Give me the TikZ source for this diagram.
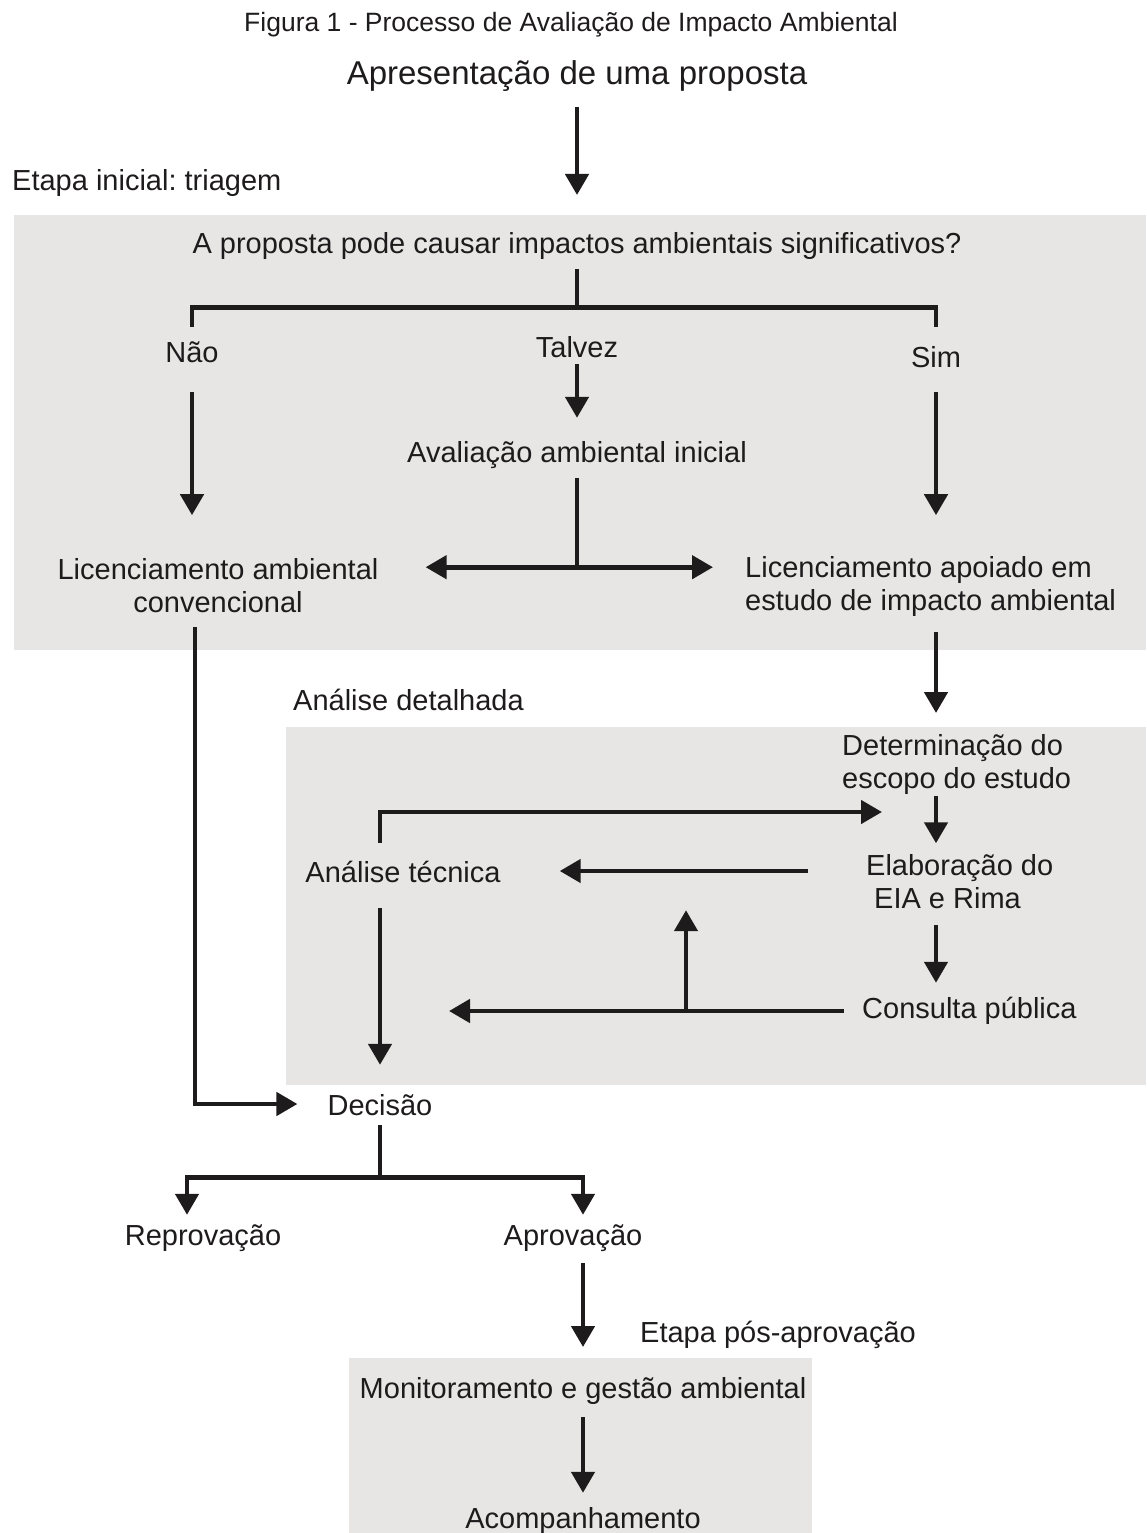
\documentclass[tikz,border=0pt]{standalone}
\usepackage{fontspec}
\setmainfont{Liberation Sans}
\frenchspacing
\usetikzlibrary{arrows.meta,calc}
\definecolor{etapa cinza}{RGB}{231,230,229}
\definecolor{tinta}{RGB}{30,27,28}
\colorlet{etapa area}{etapa cinza}
\tikzset{rotulo/.style={font=\fontsize{29}{32.5}\selectfont, inner sep=0pt,
        text height=21pt, text depth=7pt, anchor=base, text=tinta},
    bloco/.style={font=\fontsize{29}{32.5}\selectfont, inner sep=0pt,
        align=left, anchor=base west, text=tinta},
    fundo/.style={fill=etapa area, inner sep=0pt, anchor=north west},
    fluxo/.style={draw=tinta, line width=4.6pt},
    seta/.style={fluxo, -{Triangle[length=21pt,width=23pt]}},
    seta dupla/.style={fluxo, {Triangle[length=21pt,width=23pt]}-{Triangle[length=21pt,width=23pt]}}}

\begin{document}
\begin{tikzpicture}[x=1pt,y=-1pt]
    \useasboundingbox (0,0) rectangle (1146,1533);
    % etapas
    \node[fundo, minimum width=1132pt, minimum height=435pt] (triagemfundo) at (14,215) {};
    \node[fundo, minimum width=860pt, minimum height=358pt] (detalhefundo) at (286,727) {};
    \node[fundo, minimum width=463pt, minimum height=175pt] (monitfundo) at (349,1358) {};

    \node[rotulo, font=\fontsize{26.5}{30}\selectfont] (titulo) at (571,32) {Figura 1 - Processo de Avaliação de Impacto Ambiental};
    \node[rotulo, font=\fontsize{33}{38}\selectfont, text height=24pt, text depth=8pt] (proposta) at (577,85) {Apresentação de uma proposta};
    \node[rotulo, anchor=base west] (triagem) at (12,190) {Etapa inicial: triagem};
    \node[rotulo] (pergunta) at (577,253) {A proposta pode causar impactos ambientais significativos?};
    \node[rotulo] (nao) at (192,362) {Não};
    \node[rotulo] (talvez) at (577,357) {Talvez};
    \node[rotulo] (sim) at (936,367) {Sim};
    \node[rotulo] (avalini) at (577,462) {Avaliação ambiental inicial};
    \node[bloco, align=center, anchor=base] (licconv) at (218,612) {Licenciamento ambiental\\convencional};
    \node[bloco] (licest) at (745,610) {Licenciamento apoiado em\\estudo de impacto ambiental};
    \node[rotulo, anchor=base west] (detalhada) at (293,710) {Análise detalhada};
    \node[bloco] (escopo) at (842,788) {Determinação do\\escopo do estudo};
    \node[rotulo] (tecnica) at (403,882) {Análise técnica};
    \node[bloco] (elab) at (866,908) {Elaboração do\\\hspace*{8pt}EIA e Rima};
    \node[rotulo, anchor=base west] (consulta) at (862,1018) {Consulta pública};
    \node[rotulo] (decisao) at (380,1115) {Decisão};
    \node[rotulo] (reprov) at (203,1245) {Reprovação};
    \node[rotulo] (aprov) at (573,1245) {Aprovação};
    \node[rotulo, anchor=base west] (posaprov) at (640,1342) {Etapa pós-aprovação};
    \node[rotulo] (monit) at (583,1398) {Monitoramento e gestão ambiental};
    \node[rotulo] (acomp) at (583,1528) {Acompanhamento};

    \coordinate (ramo) at ($(pergunta.south)+(0,47)$);
    \coordinate (bifurca) at ($(avalini.south)+(0,98)$);
    \coordinate (canto) at (195,1104);
    \coordinate (retorno) at (882,812);
    \coordinate (juncao) at ($(consulta.west)+(-176,0)$);
    \coordinate (ramo2) at ($(decisao.south)+(0,55)$);

    \draw[seta] ($(proposta.south)+(0,14)$) -- ($(triagemfundo.north -| proposta)+(0,-20)$);
    \draw[fluxo] ($(pergunta.south)+(0,9)$) -- (ramo);
    \draw[fluxo] ($(nao.north)+(0,-14)$) |- (ramo) -| ($(sim.north)+(0,-19)$);
    \draw[seta] (talvez.south) -- ($(avalini.north)+(0,-23)$);
    \draw[seta] ($(nao.south)+(0,23)$) -- ++(0,123);
    \draw[seta] ($(sim.south)+(0,18)$) -- ++(0,123);
    \draw[fluxo] ($(avalini.south)+(0,9)$) -- (bifurca);
    \draw[seta dupla] ($(bifurca -| licconv.east)+(47,0)$) -- ($(bifurca -| licest.west)+(-32,0)$);
    \draw[seta] ($(canto |- triagemfundo.south)+(0,-23)$) -- (canto) -- ($(canto -| decisao.west)+(-30,0)$);
    \draw[seta] ($(triagemfundo.south -| sim)+(0,-18)$) -- ($(detalhefundo.north -| sim)+(0,-14)$);
    \draw[seta] ($(escopo.south -| sim)+(0,2)$) -- ($(elab.north -| sim)+(0,-11)$);
    \draw[seta] ($(tecnica.north -| decisao)+(0,-18)$) |- (retorno);
    \draw[seta] ($(tecnica.east -| elab.west)+(-58,-4)$) -- ($(tecnica.east)+(59,-4)$);
    \draw[seta] ($(elab.south -| sim)+(0,17)$) -- ($(consulta.north -| sim)+(0,-14)$);
    \draw[seta] ($(consulta.west)+(-18,0)$) -- ($(consulta.west -| decisao)+(69,0)$);
    \draw[seta] (juncao) -- ($(juncao |- tecnica.south)+(0,21)$);
    \draw[seta] ($(tecnica.south -| decisao)+(0,19)$) -- ($(decisao.north)+(0,-29)$);
    \draw[fluxo] ($(decisao.south)+(0,3)$) -- (ramo2);
    \draw[seta] (ramo2) -| ($(reprov.north)+(-16,-9)$);
    \draw[seta] (ramo2) -| ($(aprov.north)+(10,-9)$);
    \draw[seta] ($(aprov.south -| monit)+(0,11)$) -- ($(monitfundo.north -| monit)+(0,-11)$);
    \draw[seta] ($(monit.south)+(0,12)$) -- ($(acomp.north)+(0,-14)$);
\end{tikzpicture}
\end{document}
